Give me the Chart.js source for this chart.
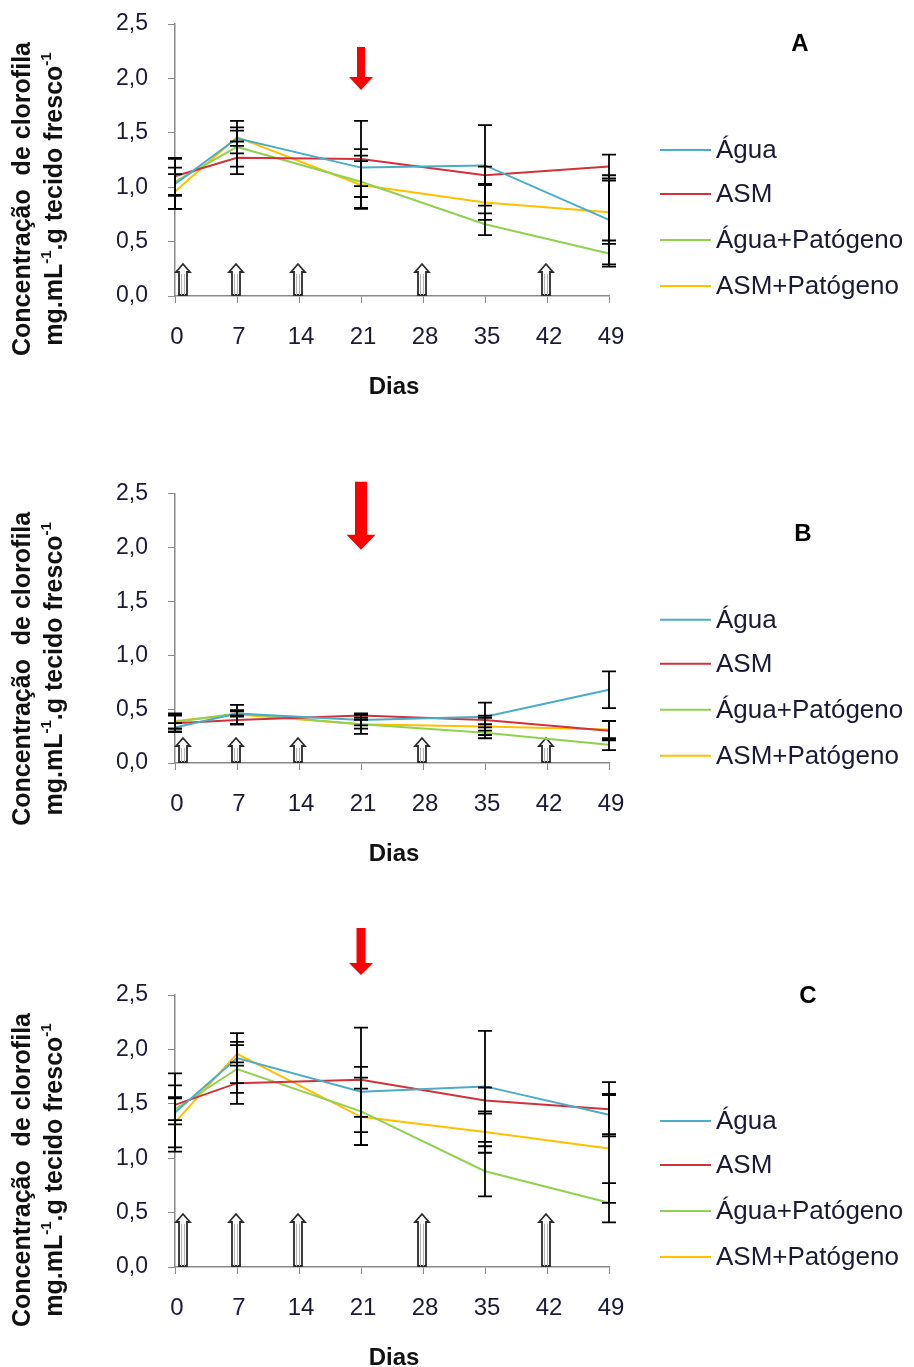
<!DOCTYPE html>
<html>
<head>
<meta charset="utf-8">
<script src="https://cdn.jsdelivr.net/npm/chart.js@4.4.0/dist/chart.umd.min.js"></script>
<style>
  body { margin: 0; background: #fff; width: 914px; height: 1367px; position: relative; overflow: hidden; }
  canvas { position: absolute; left: 0; }
</style>
</head>
<body>
<canvas id="chartA" width="914" height="430" style="top:-10px"></canvas>
<canvas id="chartB" width="914" height="420" style="top:460px"></canvas>
<canvas id="chartC" width="914" height="452" style="top:915px"></canvas>
<script>
// Days (x categories)
const days = ["0", "7", "14", "21", "28", "35", "42", "49"];
const seriesNames = ["Água", "ASM", "Água+Patógeno", "ASM+Patógeno"];
const yTicks = [0, 0.5, 1.0, 1.5, 2.0, 2.5];

// Application days (hollow arrows) and inoculation day (red arrow)
const applicationDays = ["0", "7", "14", "28", "42"];
const inoculationDay = "21";

// Panel A
const aguaA = [1.03, 1.45, null, 1.18, null, 1.20, null, 0.70];
const asmA = [1.10, 1.27, null, 1.26, null, 1.11, null, 1.19];
const aguaPatA = [1.05, 1.37, null, 1.05, null, 0.66, null, 0.39];
const asmPatA = [0.96, 1.46, null, 1.02, null, 0.86, null, 0.77];
const aguaAErr = [0.23, 0.07, null, 0.17, null, 0.37, null, 0.41];
const asmAErr = [0.17, 0.15, null, 0.35, null, 0.08, null, 0.11];
const aguaPatAErr = [0.13, 0.18, null, 0.24, null, 0.10, null, 0.12];
const asmPatAErr = [0.16, 0.15, null, 0.22, null, 0.16, null, 0.29];

// Panel B
const aguaB = [0.33, 0.46, null, 0.40, null, 0.43, null, 0.68];
const asmB = [0.37, 0.40, null, 0.44, null, 0.40, null, 0.30];
const aguaPatB = [0.38, 0.46, null, 0.36, null, 0.28, null, 0.17];
const asmPatB = [0.39, 0.45, null, 0.36, null, 0.34, null, 0.31];
const aguaBErr = [0.04, 0.03, null, 0.05, null, 0.13, null, 0.17];
const asmBErr = [0.08, 0.04, null, 0.02, null, 0.04, null, 0.09];
const aguaPatBErr = [0.06, 0.02, null, 0.09, null, 0.05, null, 0.05];
const asmPatBErr = [0.07, 0.09, null, 0.04, null, 0.08, null, 0.08];

// Panel C
const aguaC = [1.42, 1.92, null, 1.61, null, 1.66, null, 1.40];
const asmC = [1.49, 1.69, null, 1.72, null, 1.53, null, 1.45];
const aguaPatC = [1.45, 1.82, null, 1.43, null, 0.88, null, 0.59];
const asmPatC = [1.33, 1.96, null, 1.38, null, 1.24, null, 1.09];
const aguaCErr = [0.36, 0.23, null, 0.23, null, 0.51, null, 0.18];
const asmCErr = [0.18, 0.19, null, 0.48, null, 0.12, null, 0.25];
const aguaPatCErr = [0.10, 0.22, null, 0.31, null, 0.23, null, 0.18];
const asmPatCErr = [0.23, 0.11, null, 0.26, null, 0.19, null, 0.50];

// Colors
const seriesColors = ["#4bacc6", "#d0313a", "#92d050", "#ffc000"];
const textColor = "#1a1a33";
const axisColor = "#8a8a8a";
const FONT = "'Liberation Sans', Arial, sans-serif";

function fmt(v) {
  return v.toFixed(1).replace(".", ",");
}

// Draws error bars, arrows, legend, labels
const extrasPlugin = {
  id: "extras",
  beforeDatasetsDraw(chart, args, opts) {
    const ctx = chart.ctx;
    const xs = chart.scales.x;
    const area = chart.chartArea;
    const w = 14, shaft = 8, head = 8, h = opts.appHeight;
    ctx.save();
    applicationDays.forEach((d) => {
      let cx = xs.getPixelForValue(days.indexOf(d)) - 1;
      if (cx - w / 2 < area.left) cx = area.left + w / 2 + 1;
      const b = area.bottom - 1, t = b - h;
      ctx.beginPath();
      ctx.moveTo(cx - shaft / 2, b);
      ctx.lineTo(cx - shaft / 2, t + head);
      ctx.lineTo(cx - w / 2, t + head);
      ctx.lineTo(cx, t);
      ctx.lineTo(cx + w / 2, t + head);
      ctx.lineTo(cx + shaft / 2, t + head);
      ctx.lineTo(cx + shaft / 2, b);
      ctx.closePath();
      ctx.fillStyle = "#fafafa";
      ctx.fill();
      ctx.strokeStyle = "#2a2a2a";
      ctx.lineWidth = 1.8;
      ctx.stroke();
      ctx.beginPath();
      ctx.moveTo(cx - 1.5, b);
      ctx.lineTo(cx - 1.5, t + head + 2);
      ctx.moveTo(cx + 1.5, b);
      ctx.lineTo(cx + 1.5, t + head + 2);
      ctx.strokeStyle = "#b5b5b5";
      ctx.lineWidth = 1;
      ctx.stroke();
    });
    ctx.restore();
  },
  afterDatasetsDraw(chart) {
    const ctx = chart.ctx;
    const xs = chart.scales.x, ys = chart.scales.y;
    ctx.save();
    ctx.strokeStyle = "#000";
    ctx.lineWidth = 1.8;
    chart.data.datasets.forEach((ds) => {
      ds.errors.forEach((e, i) => {
        const v = ds.data[i];
        if (v == null || e == null) return;
        const px = xs.getPixelForValue(i);
        const top = ys.getPixelForValue(v + e);
        const bot = ys.getPixelForValue(v - e);
        ctx.beginPath();
        ctx.moveTo(px, top);
        ctx.lineTo(px, bot);
        ctx.moveTo(px - 7, top);
        ctx.lineTo(px + 7, top);
        ctx.moveTo(px - 7, bot);
        ctx.lineTo(px + 7, bot);
        ctx.stroke();
      });
    });
    ctx.restore();
  },
  afterDraw(chart, args, opts) {
    const ctx = chart.ctx;
    const area = chart.chartArea;
    const xs = chart.scales.x;
    ctx.save();

    // red arrow (inoculation)
    const r = opts.red;
    const rx = xs.getPixelForValue(days.indexOf(inoculationDay));
    const rt = area.top + r.top, rb = area.top + r.bottom;
    ctx.fillStyle = "#ff0000";
    ctx.beginPath();
    ctx.moveTo(rx - r.shaft / 2, rt);
    ctx.lineTo(rx + r.shaft / 2, rt);
    ctx.lineTo(rx + r.shaft / 2, rb - r.head);
    ctx.lineTo(rx + r.width / 2, rb - r.head);
    ctx.lineTo(rx, rb);
    ctx.lineTo(rx - r.width / 2, rb - r.head);
    ctx.lineTo(rx - r.shaft / 2, rb - r.head);
    ctx.closePath();
    ctx.fill();

    // legend
    ctx.textBaseline = "middle";
    ctx.textAlign = "left";
    ctx.font = "26px " + FONT;
    chart.data.datasets.forEach((ds, i) => {
      const y = area.top + [126, 170, 216, 262][i];
      ctx.strokeStyle = ds.borderColor;
      ctx.lineWidth = 2;
      ctx.beginPath();
      ctx.moveTo(660, y);
      ctx.lineTo(711, y);
      ctx.stroke();
      ctx.fillStyle = textColor;
      ctx.fillText(ds.label, 716, y + 1);
    });

    // panel letter
    ctx.fillStyle = "#000";
    ctx.textAlign = "center";
    ctx.font = "bold 24px " + FONT;
    ctx.fillText(opts.letter, opts.letterX, area.top + opts.letterDy);

    // x title
    ctx.fillStyle = "#111";
    ctx.fillText("Dias", 394, area.bottom + 91);

    // y title (two lines, rotated)
    const cy = area.top + 175;
    drawRotated(ctx, 23, cy, [["Concentração  de clorofila", false]]);
    drawRotated(ctx, 55, cy, [["mg.mL", false], ["-1", true], [".g tecido fresco", false], ["-1", true]]);
    ctx.restore();
  }
};

function drawRotated(ctx, x, y, parts) {
  const big = "bold 25px " + FONT, small = "bold 15px " + FONT;
  ctx.save();
  ctx.translate(x, y);
  ctx.rotate(-Math.PI / 2);
  ctx.textAlign = "left";
  ctx.textBaseline = "middle";
  ctx.fillStyle = "#111";
  let total = 0;
  parts.forEach(([t, sup]) => {
    ctx.font = sup ? small : big;
    total += ctx.measureText(t).width;
  });
  let pos = -total / 2;
  parts.forEach(([t, sup]) => {
    ctx.font = sup ? small : big;
    ctx.fillText(t, pos, sup ? -8 : 0);
    pos += ctx.measureText(t).width;
  });
  ctx.restore();
}

function makePanel(id, values, errors, cfg) {
  const datasets = values.map((vals, i) => ({
    label: seriesNames[i],
    data: vals,
    errors: errors[i],
    borderColor: seriesColors[i],
    backgroundColor: seriesColors[i],
    borderWidth: 2,
    pointRadius: 0,
    spanGaps: true,
    tension: 0,
  }));

  return new Chart(document.getElementById(id), {
    type: "line",
    data: { labels: days, datasets: datasets },
    plugins: [extrasPlugin],
    options: {
      responsive: false,
      animation: false,
      layout: { padding: { top: cfg.top, right: 305, left: 0, bottom: 0 } },
      plugins: {
        legend: { display: false },
        tooltip: { enabled: false },
        extras: cfg,
      },
      scales: {
        x: {
          offset: false,
          afterFit: (scale) => { scale.height = cfg.xHeight; },
          grid: { drawOnChartArea: false, drawTicks: true, tickLength: 7, color: axisColor },
          border: { color: axisColor, width: 1.5 },
          ticks: {
            color: textColor,
            font: { size: 24, family: FONT },
            padding: 20,
            labelOffset: 2,
            maxRotation: 0,
            autoSkip: false,
          },
        },
        y: {
          min: 0,
          max: 2.5,
          afterBuildTicks: (scale) => { scale.ticks = yTicks.map((v) => ({ value: v })); },
          afterFit: (scale) => { scale.width = 175; },
          grid: { drawOnChartArea: false, drawTicks: true, tickLength: 7, color: axisColor },
          border: { color: axisColor, width: 1.5 },
          ticks: {
            color: textColor,
            font: { size: 23, family: FONT },
            padding: 20,
            callback: (v) => fmt(v),
          },
        },
      },
    },
  });
}

makePanel("chartA",
  [aguaA, asmA, aguaPatA, asmPatA],
  [aguaAErr, asmAErr, aguaPatAErr, asmPatAErr],
  { top: 34, xHeight: 124, appHeight: 31, letter: "A", letterX: 800, letterDy: 20,
    red: { top: 23, bottom: 66, shaft: 8, width: 24, head: 13 } });

makePanel("chartB",
  [aguaB, asmB, aguaPatB, asmPatB],
  [aguaBErr, asmBErr, aguaPatBErr, asmPatBErr],
  { top: 32, xHeight: 117, appHeight: 24, letter: "B", letterX: 803, letterDy: 41,
    red: { top: -12, bottom: 56, shaft: 12, width: 29, head: 15 } });

makePanel("chartC",
  [aguaC, asmC, aguaPatC, asmPatC],
  [aguaCErr, asmCErr, aguaPatCErr, asmPatCErr],
  { top: 80, xHeight: 100, appHeight: 52, letter: "C", letterX: 808, letterDy: 1,
    red: { top: -67, bottom: -20, shaft: 9, width: 24, head: 12 } });
</script>
</body>
</html>
